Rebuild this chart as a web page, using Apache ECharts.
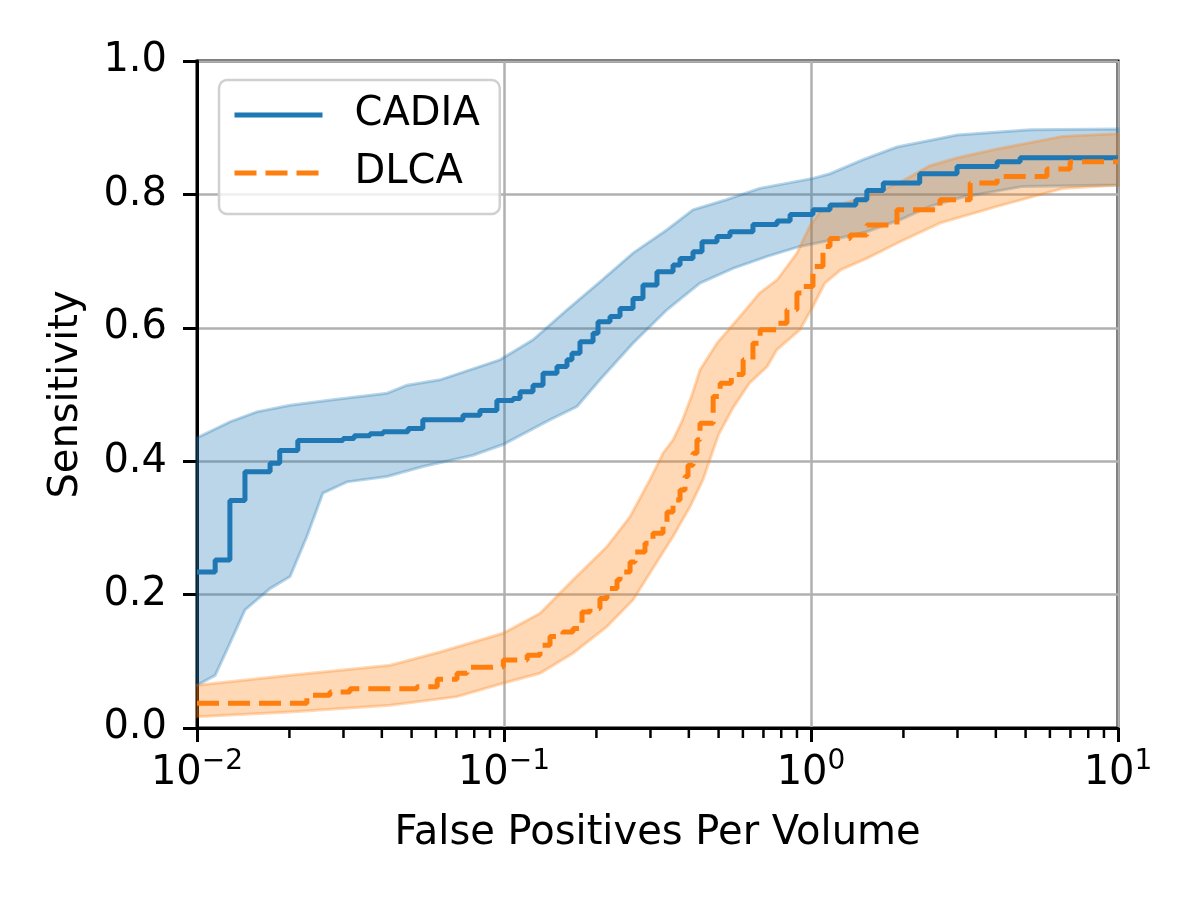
<!DOCTYPE html>
<html>
<head>
<meta charset="utf-8">
<script src="https://cdn.jsdelivr.net/npm/echarts@6/dist/echarts.min.js"></script>
<style>
  html, body { margin: 0; padding: 0; background: #fff; }
  #chart { width: 1200px; height: 900px; }
</style>
</head>
<body>
<div id="chart"></div>
<script>
// 数据：[fp/volume, sensitivity]
var cadiaLine = [
  [0.01, 0.234], [0.01146, 0.252], [0.0128, 0.341], [0.01433, 0.384], [0.0173, 0.397],
  [0.0186, 0.416], [0.0213, 0.431], [0.0299, 0.434], [0.0325, 0.438], [0.0366, 0.441],
  [0.0404, 0.444], [0.0487, 0.449], [0.0544, 0.462], [0.0735, 0.469], [0.0835, 0.476],
  [0.0948, 0.491], [0.107, 0.494], [0.1128, 0.504], [0.1243, 0.514], [0.134, 0.532],
  [0.1488, 0.542], [0.1604, 0.552], [0.1665, 0.562], [0.1768, 0.579], [0.195, 0.592],
  [0.2024, 0.609], [0.2215, 0.617], [0.2387, 0.629], [0.2632, 0.644], [0.2836, 0.664],
  [0.315, 0.684], [0.3553, 0.694], [0.3745, 0.704], [0.4127, 0.714], [0.4416, 0.729],
  [0.4942, 0.737], [0.5446, 0.744], [0.647, 0.755], [0.775, 0.760], [0.855, 0.770],
  [1.015, 0.777], [1.153, 0.784], [1.40, 0.792], [1.52, 0.806], [1.72, 0.817],
  [2.26, 0.831], [2.99, 0.842], [4.04, 0.849], [4.80, 0.855], [10, 0.855]
];
var cadiaUpper = [
  [0.01, 0.435], [0.0128, 0.459], [0.01567, 0.474], [0.0201, 0.484], [0.0277, 0.492],
  [0.0416, 0.502], [0.0483, 0.514], [0.0619, 0.522], [0.097, 0.552], [0.1243, 0.582],
  [0.1604, 0.627], [0.2054, 0.669], [0.2632, 0.712], [0.3396, 0.747], [0.4127, 0.777],
  [0.53, 0.792], [0.68, 0.809], [1.015, 0.824], [1.153, 0.831], [1.477, 0.852],
  [1.905, 0.871], [2.99, 0.889], [5.17, 0.897], [10, 0.898]
];
var cadiaLower = [
  [0.01, 0.064], [0.01146, 0.079], [0.0128, 0.127], [0.01433, 0.177], [0.0173, 0.209],
  [0.0201, 0.227], [0.0228, 0.287], [0.0257, 0.352], [0.0308, 0.369], [0.0416, 0.377],
  [0.0545, 0.392], [0.0793, 0.409], [0.0993, 0.425], [0.141, 0.462], [0.1729, 0.482],
  [0.2054, 0.522], [0.2632, 0.577], [0.3396, 0.627], [0.4353, 0.667], [0.5573, 0.689],
  [0.72, 0.707], [0.92, 0.722], [1.18, 0.732], [1.52, 0.744], [1.95, 0.762],
  [2.44, 0.782], [3.13, 0.796], [4.91, 0.812], [10, 0.814]
];
var dlcaLine = [
  [0.01, 0.037], [0.019, 0.037], [0.0228, 0.049], [0.0271, 0.054], [0.0315, 0.059],
  [0.052, 0.062], [0.0606, 0.073], [0.0703, 0.082], [0.0758, 0.091], [0.090, 0.092],
  [0.0995, 0.102], [0.119, 0.109], [0.131, 0.124], [0.1412, 0.137], [0.1556, 0.144],
  [0.1678, 0.149], [0.1795, 0.174], [0.1906, 0.179], [0.2054, 0.194], [0.2165, 0.209],
  [0.2334, 0.222], [0.2387, 0.234], [0.2574, 0.249], [0.2672, 0.264], [0.2879, 0.277],
  [0.3057, 0.292], [0.3296, 0.307], [0.3396, 0.324], [0.3553, 0.342], [0.3745, 0.357],
  [0.3887, 0.377], [0.3975, 0.394], [0.4127, 0.412], [0.4252, 0.432], [0.435, 0.457],
  [0.48, 0.497], [0.506, 0.517], [0.55, 0.530], [0.601, 0.552], [0.647, 0.577],
  [0.683, 0.597], [0.774, 0.607], [0.835, 0.627], [0.90, 0.652], [0.942, 0.662],
  [1.015, 0.692], [1.094, 0.722], [1.153, 0.734], [1.34, 0.739], [1.52, 0.754],
  [1.905, 0.777], [2.63, 0.792], [3.30, 0.817], [4.04, 0.827], [5.87, 0.838],
  [6.98, 0.849], [10, 0.849]
];
var dlcaUpper = [
  [0.01, 0.064], [0.0201, 0.079], [0.0426, 0.094], [0.0619, 0.114], [0.0993, 0.142],
  [0.131, 0.172], [0.1678, 0.222], [0.2165, 0.272], [0.2574, 0.317], [0.2985, 0.372],
  [0.3296, 0.412], [0.3553, 0.432], [0.38, 0.46], [0.41, 0.50], [0.435, 0.537],
  [0.494, 0.577], [0.587, 0.617], [0.68, 0.652], [0.776, 0.672], [0.90, 0.712],
  [0.99, 0.752], [1.07, 0.774], [1.18, 0.782], [1.53, 0.797], [1.95, 0.818],
  [2.44, 0.843], [3.0, 0.855], [4.04, 0.868], [6.62, 0.887], [10, 0.891]
];
var dlcaLower = [
  [0.01, 0.017], [0.0201, 0.024], [0.0426, 0.034], [0.0703, 0.047], [0.0993, 0.067],
  [0.131, 0.082], [0.1678, 0.112], [0.2165, 0.152], [0.2632, 0.192], [0.2985, 0.232],
  [0.3553, 0.287], [0.404, 0.332], [0.4446, 0.372], [0.4683, 0.402], [0.50, 0.44],
  [0.557, 0.480], [0.63, 0.517], [0.72, 0.542], [0.774, 0.567], [0.92, 0.597],
  [1.015, 0.632], [1.11, 0.667], [1.25, 0.687], [1.52, 0.704], [1.95, 0.729],
  [2.63, 0.757], [4.04, 0.782], [6.62, 0.809], [10, 0.814]
];

// 刻度
var minorTicks = [0.02, 0.03, 0.04, 0.05, 0.06, 0.07, 0.08, 0.09,
  0.2, 0.3, 0.4, 0.5, 0.6, 0.7, 0.8, 0.9, 2, 3, 4, 5, 6, 7, 8, 9];

(function () {
  var myChart = echarts.init(document.getElementById('chart'));
  var font = 'DejaVu Sans';

  // 置信区间：多边形（上沿 + 反向下沿），坐标走库的坐标轴
  function band(upper, lower, fill) {
    return {
      type: 'custom',
      silent: true,
      z: 1,
      data: [[1, 0.5]],
      renderItem: function (params, api) {
        var pts = upper.map(function (p) { return api.coord(p); })
          .concat(lower.slice().reverse().map(function (p) { return api.coord(p); }));
        return {
          type: 'polygon',
          shape: { points: pts },
          style: { fill: fill, stroke: fill, lineWidth: 3 }
        };
      }
    };
  }

  var option = {
    animation: false,
    textStyle: { fontFamily: font },
    grid: {
      left: 197, right: 82, top: 61, bottom: 172,
      show: true, borderColor: '#000', borderWidth: 3
    },
    legend: {
      orient: 'vertical',
      left: 219, top: 80,
      data: ['CADIA', 'DLCA'],
      itemWidth: 88, itemHeight: 14, itemGap: 18,
      padding: [15, 20, 21, 13],
      borderColor: '#d0d0d0', borderWidth: 2.5, borderRadius: 8,
      backgroundColor: 'rgba(255,255,255,0.8)',
      itemStyle: { opacity: 0 },
      lineStyle: { width: 5 },
      textStyle: { fontSize: 40, color: '#000', fontFamily: font, padding: [0, 0, 0, 27] }
    },
    xAxis: {
      type: 'log', logBase: 10, min: 0.01, max: 10,
      name: 'False Positives Per Volume',
      nameLocation: 'middle', nameGap: 86,
      nameTextStyle: { fontSize: 40, color: '#000', fontFamily: font },
      axisLine: { show: true, lineStyle: { color: '#000', width: 3 } },
      axisTick: { show: true, length: 14, lineStyle: { color: '#000', width: 3 } },
      axisLabel: {
        margin: 20, color: '#000',
        formatter: function (v) {
          var e = Math.round(Math.log10(v));
          return '{base|10}{sup|' + (e < 0 ? '\u2212' + (-e) : e) + '}';
        },
        rich: {
          base: { fontSize: 40, color: '#000', fontFamily: font, padding: [6, 0, 0, 0], verticalAlign: 'bottom' },
          sup: { fontSize: 28, color: '#000', fontFamily: font, verticalAlign: 'top' }
        }
      },
      splitLine: { show: true, lineStyle: { color: '#b0b0b0', width: 2.5 } }
    },
    yAxis: {
      type: 'value', min: 0, max: 1, interval: 0.2,
      name: 'Sensitivity',
      nameLocation: 'middle', nameGap: 110,
      nameTextStyle: { fontSize: 40, color: '#000', fontFamily: font },
      axisLine: { show: true, lineStyle: { color: '#000', width: 3 } },
      axisTick: { show: true, length: 14, lineStyle: { color: '#000', width: 3 } },
      axisLabel: {
        fontSize: 40, color: '#000', margin: 30,
        formatter: function (v) { return v.toFixed(1); }
      },
      splitLine: { show: true, lineStyle: { color: '#b0b0b0', width: 2.5 } }
    },
    series: [
      band(cadiaUpper, cadiaLower, 'rgba(31,119,180,0.3)'),
      band(dlcaUpper, dlcaLower, 'rgba(255,127,14,0.3)'),
      {
        name: 'CADIA', type: 'line', data: cadiaLine, step: 'end',
        symbol: 'none', showSymbol: false, z: 3,
        itemStyle: { color: '#1f77b4' },
        lineStyle: { color: '#1f77b4', width: 5 }
      },
      {
        name: 'DLCA', type: 'line', data: dlcaLine, step: 'end',
        symbol: 'none', showSymbol: false, z: 4,
        itemStyle: { color: '#ff7f0e' },
        lineStyle: { color: '#ff7f0e', width: 5, type: [22, 9] }
      }
    ]
  };

  myChart.setOption(option);

  // 次刻度（对数轴 2..9），位置由坐标轴换算
  var y0 = myChart.convertToPixel({ yAxisIndex: 0 }, 0);
  var tickMarks = minorTicks.map(function (v) {
    var x = myChart.convertToPixel({ xAxisIndex: 0 }, v);
    return {
      type: 'line',
      z: 100,
      shape: { x1: x, y1: y0, x2: x, y2: y0 + 10 },
      style: { stroke: '#000', lineWidth: 2.5 }
    };
  });
  myChart.setOption({ graphic: { elements: tickMarks } });

  window.addEventListener('resize', function () {
    myChart.resize();
  });
})();
</script>
</body>
</html>
